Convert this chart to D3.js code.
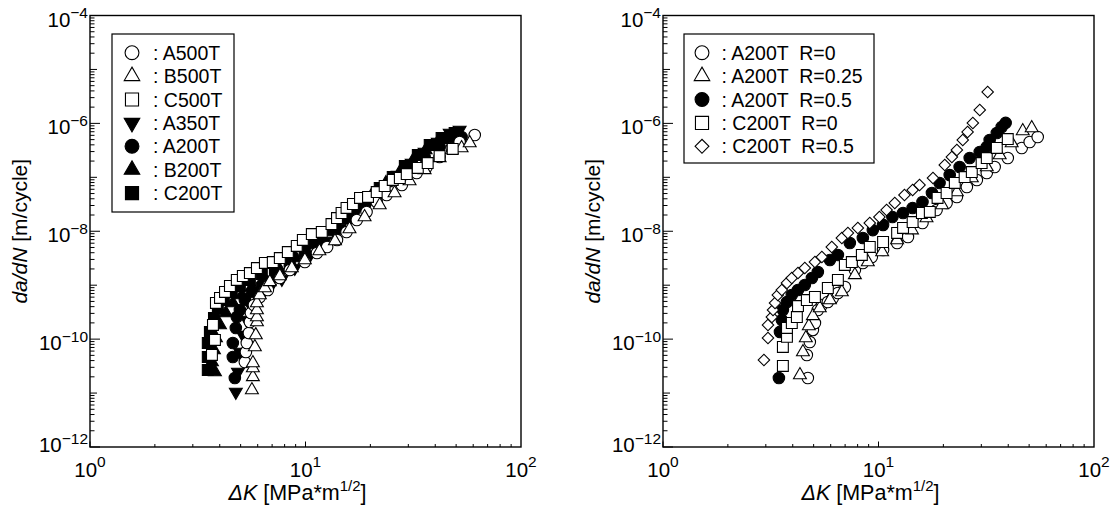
<!DOCTYPE html>
<html>
<head>
<meta charset="utf-8">
<script src="https://cdn.jsdelivr.net/npm/d3@7"></script>
<style>
  html, body { margin: 0; padding: 0; background: #fff; }
  svg { display: block; font-family: "Liberation Sans", Arial, Helvetica, sans-serif; }
  text { white-space: pre; }
</style>
</head>
<body>
<svg id="chart" width="1118" height="523"></svg>
<script>
// ---- Fatigue crack growth data: [ΔK (MPa·m^1/2), da/dN (m/cycle)] ----

// Left panel: different heat treatments, R = 0
const leftNames = ["A500T", "B500T", "C500T", "A350T", "A200T", "B200T", "C200T"];

const a500T = [[5.23,3.77e-11],[5.29,5.78e-11],[5.34,8.48e-11],[5.46,1.30e-10],[5.52,2.08e-10],[5.58,3.05e-10],[5.76,4.30e-10],[6.14,6.04e-10],[6.69,8.15e-10],[7.60,1.36e-9],[8.46,1.91e-9],[9.93,2.69e-9],[11.3,3.95e-9],[12.6,5.11e-9],[14.0,6.89e-9],[15.5,9.69e-9],[17.3,1.62e-8],[19.2,2.28e-8],[21.4,3.49e-8],[23.8,4.70e-8],[28.0,7.20e-8],[32.8,1.20e-7],[36.5,1.55e-7],[41.9,2.38e-7],[47.7,3.50e-7],[51.9,4.52e-7],[61.0,6.09e-7]];
const b500T = [[5.64,1.14e-11],[5.70,1.99e-11],[5.70,2.92e-11],[5.70,3.61e-11],[5.82,7.15e-11],[5.88,1.19e-10],[5.95,2.08e-10],[5.95,2.57e-10],[5.95,3.47e-10],[5.95,4.68e-10],[6.14,6.58e-10],[6.48,8.87e-10],[6.83,1.15e-9],[7.60,1.48e-9],[8.64,2.08e-9],[9.93,2.93e-9],[11.6,4.31e-9],[13.7,6.60e-9],[16.0,1.10e-8],[18.8,1.84e-8],[22.1,3.07e-8],[25.9,5.12e-8],[30.4,8.55e-8],[35.7,1.37e-7],[41.9,2.28e-7],[47.7,3.21e-7],[53.0,3.50e-7],[57.8,4.33e-7]];
const c500T = [[3.68,5.08e-11],[3.80,9.64e-11],[3.72,1.83e-10],[3.84,4.68e-10],[4.01,5.79e-10],[4.23,7.48e-10],[4.46,9.66e-10],[4.80,1.25e-9],[5.12,1.48e-9],[5.52,1.68e-9],[5.95,2.08e-9],[6.48,2.58e-9],[7.05,2.69e-9],[7.60,3.19e-9],[8.28,4.12e-9],[9.11,5.33e-9],[9.72,6.89e-9],[10.7,8.89e-9],[11.9,9.69e-9],[13.2,1.36e-8],[14.0,1.76e-8],[14.7,2.18e-8],[15.5,2.70e-8],[16.6,3.20e-8],[17.9,4.14e-8],[19.5,4.32e-8],[21.4,5.34e-8],[23.3,6.90e-8],[25.4,8.92e-8],[27.4,9.71e-8],[29.5,1.15e-7],[33.2,1.49e-7],[36.9,1.84e-7],[41.9,2.48e-7],[48.2,3.35e-7]];
const a350T = [[4.75,1.05e-11],[4.86,2.46e-11],[4.96,5.78e-11],[5.12,1.19e-10],[5.34,2.26e-10],[5.64,3.78e-10],[6.14,5.79e-10],[6.83,8.87e-10],[7.77,1.30e-9],[8.92,2.08e-9],[10.5,3.63e-9],[12.3,6.60e-9],[14.4,1.15e-8],[16.9,2.09e-8],[19.9,3.80e-8],[23.1,6.34e-8],[26.8,1.10e-7],[31.1,1.84e-7],[35.7,2.95e-7],[41.1,4.52e-7],[46.7,6.63e-7],[51.9,7.54e-7]];
const a200T = [[4.70,1.90e-11],[4.60,4.67e-11],[4.60,8.48e-11],[4.75,1.61e-10],[4.80,2.57e-10],[4.96,3.47e-10],[5.23,5.31e-10],[5.64,7.48e-10],[6.27,1.01e-9],[7.21,1.42e-9],[8.46,2.27e-9],[9.93,3.79e-9],[11.6,6.32e-9],[13.7,1.05e-8],[16.0,1.76e-8],[18.8,3.07e-8],[22.1,5.12e-8],[25.9,8.92e-8],[30.4,1.49e-7],[35.7,2.38e-7],[41.9,3.65e-7],[47.7,4.71e-7],[53.0,5.59e-7]];
const b200T = [[3.80,2.46e-11],[3.68,3.77e-11],[3.76,6.29e-11],[3.84,1.05e-10],[4.01,1.83e-10],[4.27,3.05e-10],[4.60,4.68e-10],[5.07,6.58e-10],[5.64,9.26e-10],[6.48,1.30e-9],[7.60,1.91e-9],[9.02,3.19e-9],[10.7,5.56e-9],[12.7,9.69e-9],[14.9,1.62e-8],[17.5,2.82e-8],[20.3,4.70e-8],[23.6,7.85e-8],[27.4,1.25e-7],[31.4,2.01e-7],[36.1,3.21e-7],[41.1,4.52e-7]];
const c200T = [[3.52,2.68e-11],[3.52,4.67e-11],[3.52,8.48e-11],[3.60,1.36e-10],[3.76,2.47e-10],[3.92,3.78e-10],[4.18,5.31e-10],[4.55,7.48e-10],[4.96,9.66e-10],[5.52,1.25e-9],[6.27,1.61e-9],[7.21,2.08e-9],[8.46,3.19e-9],[9.93,5.33e-9],[11.6,8.17e-9],[13.7,1.36e-8],[16.0,2.28e-8],[18.8,3.80e-8],[22.1,6.34e-8],[25.4,1.01e-7],[28.9,1.62e-7],[33.2,2.59e-7],[37.7,3.97e-7],[42.8,5.36e-7],[49.2,6.63e-7]];

// Right panel: stress ratio effect
const rightNames = ["A200T  R=0", "A200T  R=0.25", "A200T  R=0.5", "C200T  R=0", "C200T  R=0.5"];

const a200R0 = [[4.70,1.90e-11],[4.65,5.08e-11],[4.80,8.85e-11],[4.96,1.48e-10],[5.07,1.99e-10],[5.23,3.47e-10],[5.46,4.30e-10],[5.82,4.88e-10],[6.14,5.79e-10],[6.48,7.17e-10],[6.98,9.26e-10],[7.77,1.91e-9],[8.46,2.58e-9],[9.31,3.33e-9],[10.5,4.49e-9],[12.2,6.06e-9],[13.7,7.83e-9],[16.0,1.42e-8],[18.6,2.48e-8],[20.7,3.34e-8],[23.1,4.32e-8],[25.7,6.61e-8],[28.6,8.92e-8],[31.8,1.20e-7],[34.6,1.55e-7],[39.8,2.28e-7],[46.2,3.50e-7],[50.3,4.52e-7],[54.8,5.59e-7]];
const a200R025 = [[4.32,2.16e-11],[4.46,5.78e-11],[4.60,1.05e-10],[4.75,1.75e-10],[4.96,2.69e-10],[5.34,3.78e-10],[5.95,5.31e-10],[6.76,7.48e-10],[7.77,1.55e-9],[8.92,2.69e-9],[10.4,4.12e-9],[12.2,6.89e-9],[14.3,1.05e-8],[16.7,1.76e-8],[19.7,3.07e-8],[23.1,5.34e-8],[27.1,9.71e-8],[31.8,1.55e-7],[36.5,2.59e-7],[41.5,4.33e-7],[46.7,7.22e-7],[51.4,8.21e-7]];
const a200R05 = [[3.45,1.90e-11],[3.49,1.36e-10],[3.56,2.26e-10],[3.60,3.47e-10],[3.76,4.88e-10],[3.96,6.58e-10],[4.23,8.15e-10],[4.55,1.01e-9],[4.91,1.36e-9],[5.23,1.76e-9],[5.95,2.93e-9],[6.48,3.63e-9],[7.36,6.06e-9],[8.46,7.50e-9],[9.41,1.05e-8],[10.5,1.31e-8],[11.6,1.84e-8],[13.0,2.18e-8],[14.4,2.70e-8],[16.0,3.49e-8],[17.7,5.12e-8],[19.2,7.85e-8],[21.4,1.10e-7],[23.8,1.55e-7],[26.5,2.28e-7],[29.5,2.95e-7],[31.8,3.65e-7],[32.8,4.92e-7],[35.4,6.63e-7],[37.3,8.57e-7],[38.9,1.02e-6]];
const c200R0 = [[3.60,3.18e-11],[3.60,7.15e-11],[3.76,1.10e-10],[3.76,1.61e-10],[3.96,1.99e-10],[4.18,2.57e-10],[4.23,4.11e-10],[4.65,5.31e-10],[5.07,6.04e-10],[5.82,8.87e-10],[6.48,1.25e-9],[6.98,2.37e-9],[7.52,2.69e-9],[8.37,3.63e-9],[9.11,5.11e-9],[10.5,6.32e-9],[12.2,9.29e-9],[13.0,1.15e-8],[14.4,1.48e-8],[15.9,2.18e-8],[17.3,2.28e-8],[18.8,4.14e-8],[20.7,5.12e-8],[22.6,7.85e-8],[25.1,1.01e-7],[27.1,1.25e-7],[30.1,1.84e-7],[31.8,2.28e-7],[35.4,3.50e-7],[39.8,5.13e-7]];
const c200R05 = [[2.94,4.10e-11],[3.07,1.05e-10],[3.07,1.83e-10],[3.20,2.57e-10],[3.24,3.47e-10],[3.31,4.68e-10],[3.41,6.58e-10],[3.56,8.15e-10],[3.76,1.10e-9],[3.96,1.36e-9],[4.23,1.68e-9],[4.55,2.08e-9],[5.07,2.69e-9],[5.46,3.33e-9],[6.07,5.11e-9],[6.76,7.50e-9],[7.21,9.29e-9],[8.02,1.15e-8],[9.11,1.42e-8],[10.1,1.84e-8],[10.9,2.48e-8],[11.9,3.34e-8],[13.2,4.70e-8],[14.4,5.82e-8],[15.5,7.20e-8],[17.9,9.71e-8],[20.3,1.69e-7],[21.9,2.38e-7],[23.1,3.21e-7],[24.6,4.92e-7],[25.9,6.92e-7],[27.4,1.02e-6],[29.5,1.77e-6],[32.1,3.82e-6]];

// Axis domains and labelled decades
const xDomain = [1, 100];
const yDomain = [1e-12, 1e-4];
const xTickExps = [0, 1, 2];
const yTickExps = [-4, -6, -8, -10, -12];

// ---- Marker styles ----
const shapes = {
  circle:   { type: d3.symbolCircle,   size: 104, rot: 0 },
  triUp:    { type: d3.symbolTriangle, size: 72,  rot: 0 },
  triDown:  { type: d3.symbolTriangle, size: 72,  rot: 180 },
  square:   { type: d3.symbolSquare,   size: 118, rot: 0 },
  diamond:  { type: d3.symbolSquare,   size: 66,  rot: 45 }
};
const legendScale = 1.45;

const leftSeries = [
  { name: leftNames[0], data: a500T, shape: "circle",  filled: false },
  { name: leftNames[1], data: b500T, shape: "triUp",   filled: false },
  { name: leftNames[2], data: c500T, shape: "square",  filled: false },
  { name: leftNames[3], data: a350T, shape: "triDown", filled: true },
  { name: leftNames[4], data: a200T, shape: "circle",  filled: true },
  { name: leftNames[5], data: b200T, shape: "triUp",   filled: true },
  { name: leftNames[6], data: c200T, shape: "square",  filled: true }
];
const rightSeries = [
  { name: rightNames[0], data: a200R0,   shape: "circle",  filled: false },
  { name: rightNames[1], data: a200R025, shape: "triUp",   filled: false },
  { name: rightNames[2], data: a200R05,  shape: "circle",  filled: true },
  { name: rightNames[3], data: c200R0,   shape: "square",  filled: false },
  { name: rightNames[4], data: c200R05,  shape: "diamond", filled: false }
];

// drawing order of the series (back to front)
const leftOrder = [6, 5, 4, 3, 0, 1, 2];
const rightOrder = [0, 1, 2, 3, 4];

const svg = d3.select("#chart");
const plotTop = 15.5, plotW = 431, plotH = 431.5;
const FONT = "Liberation Sans, Arial, Helvetica, sans-serif";

function symbolPath(shapeKey, scale) {
  const s = shapes[shapeKey];
  return d3.symbol().type(s.type).size(s.size * (scale || 1))();
}

function drawMarker(g, shapeKey, filled, cx, cy, scale) {
  const s = shapes[shapeKey];
  g.append("path")
    .attr("d", symbolPath(shapeKey, scale))
    .attr("transform", `translate(${cx},${cy}) rotate(${s.rot})`)
    .attr("fill", filled ? "#000" : "#fff")
    .attr("stroke", "#000")
    .attr("stroke-width", 1.1);
}

function drawPanel(left, series, order, legend) {
  const g = svg.append("g").attr("font-family", FONT);
  const x = d3.scaleLog().domain(xDomain).range([left, left + plotW]);
  const y = d3.scaleLog().domain(yDomain).range([plotTop + plotH, plotTop]);
  const bottom = plotTop + plotH;

  // data markers
  const mg = g.append("g");
  order.forEach(i => {
    const s = series[i];
    s.data.forEach(d => drawMarker(mg, s.shape, s.filled, x(d[0]), y(d[1]), 1));
  });

  // frame
  g.append("rect")
    .attr("x", left).attr("y", plotTop)
    .attr("width", plotW).attr("height", plotH)
    .attr("fill", "none").attr("stroke", "#000").attr("stroke-width", 1.4);

  // y ticks (inside)
  const tg = g.append("g").attr("stroke", "#000").attr("stroke-width", 1);
  for (let n = -12; n < -4; n++) {
    for (let m = 1; m <= 9; m++) {
      const v = m * Math.pow(10, n);
      const len = m === 1 ? (n % 2 === 0 ? 10 : 7) : 4.5;
      const yy = y(v);
      tg.append("line").attr("x1", left).attr("x2", left + len).attr("y1", yy).attr("y2", yy);
    }
  }
  // x ticks (inside)
  for (let n = 0; n < 2; n++) {
    for (let m = 1; m <= 9; m++) {
      const v = m * Math.pow(10, n);
      const len = m === 1 ? 5.5 : 3;
      const xx = x(v);
      tg.append("line").attr("x1", xx).attr("x2", xx).attr("y1", bottom).attr("y2", bottom - len);
    }
  }

  // y tick labels
  yTickExps.forEach(e => {
    const yy = y(Math.pow(10, e)) + (e === -12 ? 5 : 11);
    const t = g.append("text")
      .attr("x", left - 2).attr("y", yy)
      .attr("text-anchor", "end")
      .attr("font-size", 20.5).attr("fill", "#000");
    t.append("tspan").text("10");
    t.append("tspan").attr("dy", -8.5).attr("font-size", 15.5).text("\u2212" + Math.abs(e));
  });

  // x tick labels
  xTickExps.forEach(e => {
    const t = g.append("text")
      .attr("x", x(Math.pow(10, e))).attr("y", 477)
      .attr("text-anchor", "middle")
      .attr("font-size", 20.5).attr("fill", "#000");
    t.append("tspan").text("10");
    t.append("tspan").attr("dy", -10).attr("font-size", 15.5).text(String(e));
  });

  // x axis title
  const xt = g.append("text")
    .attr("x", left + plotW / 2 - 8).attr("y", 500)
    .attr("text-anchor", "middle").attr("font-size", 21.5).attr("fill", "#000");
  xt.append("tspan").attr("font-style", "italic").text("\u0394K");
  xt.append("tspan").text(" [MPa*m");
  xt.append("tspan").attr("dy", -9).attr("font-size", 15).text("1/2");
  xt.append("tspan").attr("dy", 9).text("]");

  // y axis title
  const yt = g.append("text")
    .attr("transform", `translate(${left - 63},${plotTop + plotH / 2}) rotate(-90)`)
    .attr("text-anchor", "middle").attr("font-size", 21).attr("fill", "#000");
  yt.append("tspan").attr("font-style", "italic").text("da/dN");
  yt.append("tspan").text(" [m/cycle]");

  // legend
  const lg = g.append("g");
  lg.append("rect")
    .attr("x", legend.x).attr("y", legend.y)
    .attr("width", legend.w).attr("height", legend.h)
    .attr("fill", "#fff").attr("stroke", "#000").attr("stroke-width", 1.2);
  series.forEach((s, i) => {
    const cy = legend.y + 18.7 + i * 23.4;
    const sx = legend.x + legend.sym;
    drawMarker(lg, s.shape, s.filled, sx, cy, legendScale);
    lg.append("text")
      .attr("x", sx + legend.gap).attr("y", cy + 7)
      .attr("font-size", 19.5).attr("fill", "#000")
      .attr("xml:space", "preserve")
      .text(": " + s.name);
  });
}

drawPanel(90, leftSeries, leftOrder, { x: 112, y: 34, w: 122, h: 178, sym: 20, gap: 21 });
drawPanel(663, rightSeries, rightOrder, { x: 684, y: 34, w: 190, h: 129, sym: 18, gap: 19.5 });
</script>
</body>
</html>
